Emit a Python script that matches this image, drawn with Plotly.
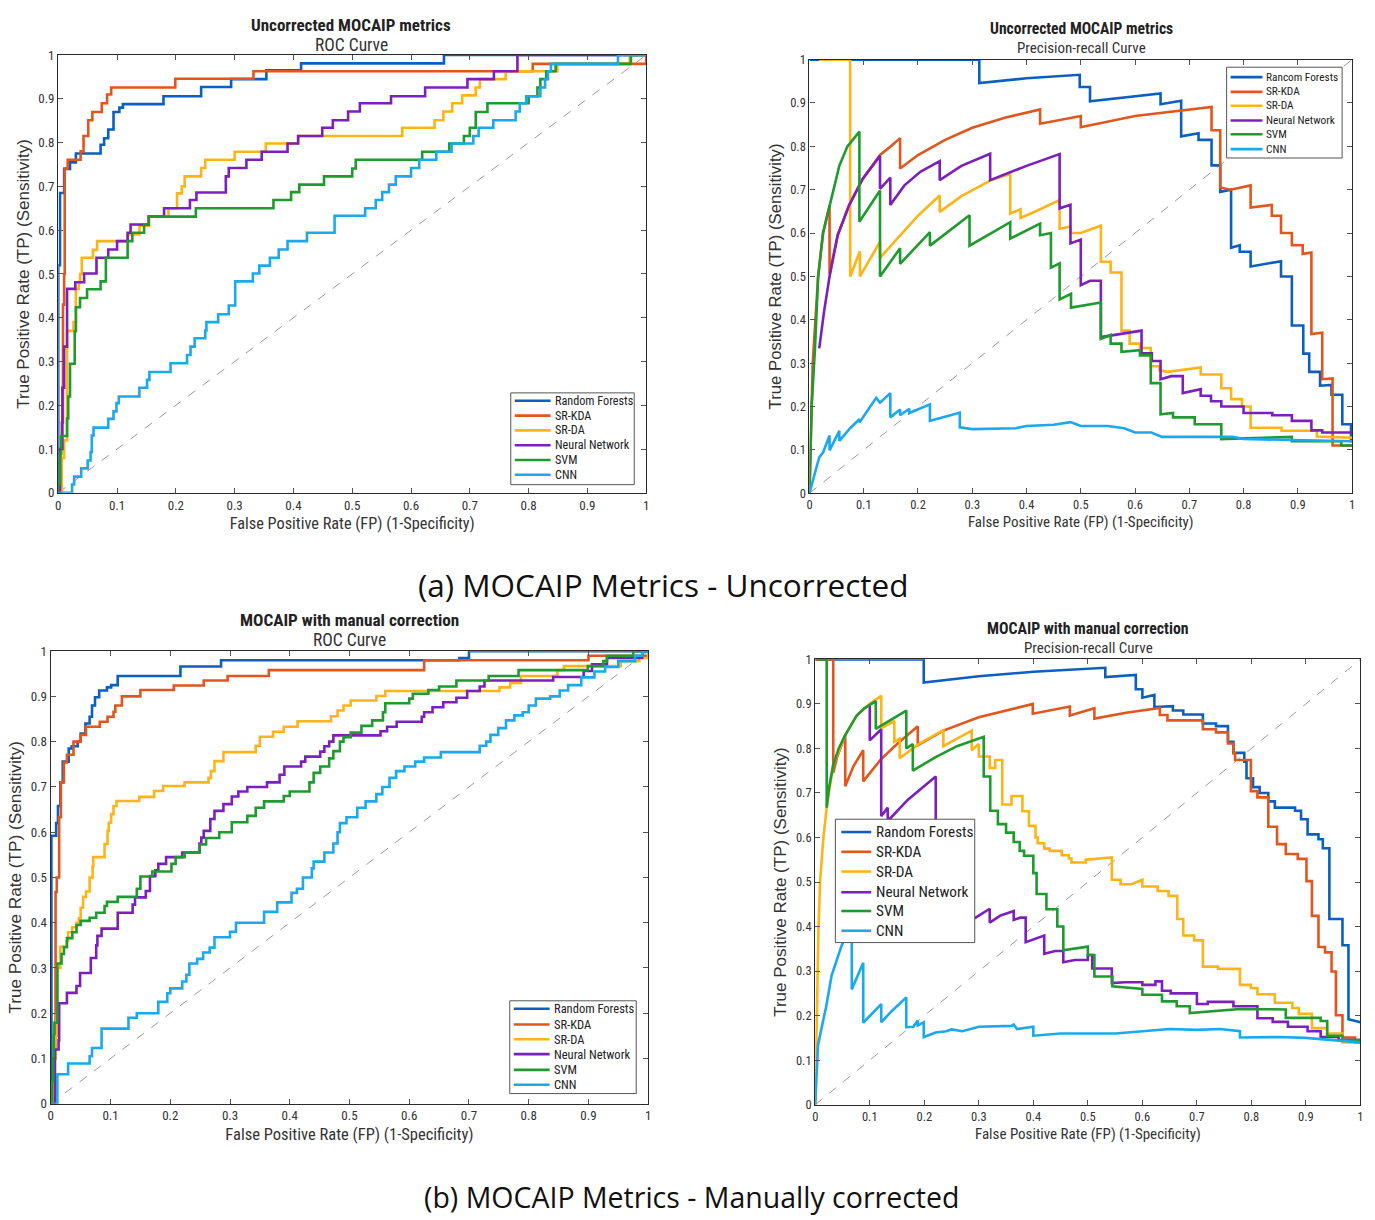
import plotly.graph_objects as go

W, H = 1375, 1220

# ---------------- series names / colours ----------------
series_names = ["Random Forests", "SR-KDA", "SR-DA", "Neural Network", "SVM", "CNN"]
series_names_pr_unc = ["Rancom Forests", "SR-KDA", "SR-DA", "Neural Network", "SVM", "CNN"]
series_colors = ["#0a5fc0", "#e0561c", "#fdb416", "#7b20bd", "#1f9a2e", "#1aa8ee"]
tick_vals = [0, 0.1, 0.2, 0.3, 0.4, 0.5, 0.6, 0.7, 0.8, 0.9, 1]
tick_text = ["0", "0.1", "0.2", "0.3", "0.4", "0.5", "0.6", "0.7", "0.8", "0.9", "1"]

# ================= (a) Uncorrected — ROC (step breakpoints) =================
roc_unc_rf_x = [0, 0, 0.003, 0.01, 0.02, 0.03, 0.072, 0.078, 0.085, 0.094, 0.104, 0.11, 0.179, 0.243, 0.294, 0.354, 0.413, 0.656, 1]
roc_unc_rf_y = [0, 0.52, 0.685, 0.74, 0.755, 0.775, 0.795, 0.81, 0.83, 0.87, 0.88, 0.888, 0.906, 0.927, 0.945, 0.965, 0.981, 1.0, 1]
roc_unc_kda_x = [0, 0.004, 0.006, 0.008, 0.01, 0.011, 0.016, 0.038, 0.043, 0.051, 0.058, 0.074, 0.083, 0.09, 0.199, 0.332, 0.807, 1]
roc_unc_kda_y = [0, 0.1, 0.16, 0.43, 0.5, 0.741, 0.761, 0.78, 0.815, 0.851, 0.87, 0.89, 0.91, 0.926, 0.946, 0.963, 0.98, 1]
roc_unc_da_x = [0, 0.006, 0.01, 0.015, 0.026, 0.03, 0.035, 0.037, 0.04, 0.059, 0.066, 0.118, 0.138, 0.154, 0.1875, 0.202, 0.21, 0.215, 0.243, 0.25, 0.3, 0.353, 0.408, 0.585, 0.64, 0.655, 0.67, 0.687, 0.71, 0.717, 0.761, 0.849, 0.972, 1]
roc_unc_da_y = [0, 0.08, 0.12, 0.37, 0.39, 0.466, 0.48, 0.5, 0.537, 0.555, 0.575, 0.59, 0.61, 0.631, 0.65, 0.684, 0.7, 0.723, 0.742, 0.761, 0.779, 0.798, 0.815, 0.834, 0.851, 0.871, 0.89, 0.908, 0.926, 0.945, 0.963, 0.98, 1.0, 1]
roc_unc_nn_x = [0, 0.003, 0.007, 0.01, 0.015, 0.029, 0.044, 0.065, 0.085, 0.10, 0.118, 0.123, 0.154, 0.18, 0.224, 0.235, 0.285, 0.29, 0.32, 0.346, 0.39, 0.408, 0.449, 0.467, 0.493, 0.513, 0.566, 0.624, 0.696, 0.741, 0.781, 1]
roc_unc_nn_y = [0, 0.1, 0.24, 0.334, 0.466, 0.481, 0.501, 0.537, 0.556, 0.575, 0.594, 0.613, 0.631, 0.65, 0.669, 0.686, 0.723, 0.742, 0.761, 0.779, 0.798, 0.815, 0.834, 0.851, 0.871, 0.89, 0.906, 0.926, 0.945, 0.963, 1.0, 1]
roc_unc_svm_x = [0, 0, 0.003, 0.005, 0.015, 0.017, 0.02, 0.028, 0.03, 0.037, 0.049, 0.072, 0.081, 0.118, 0.126, 0.146, 0.154, 0.234, 0.366, 0.396, 0.41, 0.452, 0.5, 0.506, 0.619, 0.665, 0.69, 0.70, 0.71, 0.73, 0.8, 0.815, 0.82, 0.83, 0.846, 0.974, 1]
roc_unc_svm_y = [0, 0.02, 0.09, 0.13, 0.17, 0.22, 0.295, 0.369, 0.424, 0.445, 0.465, 0.483, 0.537, 0.575, 0.594, 0.613, 0.631, 0.65, 0.669, 0.687, 0.704, 0.723, 0.741, 0.761, 0.779, 0.798, 0.815, 0.834, 0.87, 0.89, 0.906, 0.926, 0.945, 0.963, 0.98, 1.0, 1]
roc_unc_cnn_x = [0, 0.0235, 0.027, 0.039, 0.05, 0.055, 0.057, 0.06, 0.085, 0.094, 0.099, 0.103, 0.138, 0.151, 0.155, 0.191, 0.219, 0.225, 0.232, 0.25, 0.252, 0.272, 0.29, 0.301, 0.331, 0.342, 0.36, 0.375, 0.39, 0.423, 0.47, 0.522, 0.54, 0.551, 0.5625, 0.574, 0.6, 0.614, 0.643, 0.669, 0.706, 0.715, 0.74, 0.778, 0.785, 0.796, 0.82, 0.828, 0.833, 0.838, 0.952, 1]
roc_unc_cnn_y = [0, 0.019, 0.037, 0.056, 0.074, 0.093, 0.131, 0.149, 0.169, 0.186, 0.205, 0.22, 0.24, 0.258, 0.276, 0.296, 0.315, 0.334, 0.353, 0.371, 0.39, 0.408, 0.428, 0.483, 0.501, 0.519, 0.537, 0.556, 0.575, 0.594, 0.633, 0.65, 0.669, 0.687, 0.704, 0.723, 0.742, 0.761, 0.779, 0.798, 0.815, 0.834, 0.851, 0.871, 0.89, 0.906, 0.926, 0.945, 0.963, 0.98, 1.0, 1]

# ================= (a) Uncorrected — Precision-recall =================
pr_unc_rf_x = [0, 0.313, 0.313, 0.40, 0.498, 0.498, 0.517, 0.517, 0.647, 0.647, 0.685, 0.685, 0.717, 0.717, 0.741, 0.741, 0.757, 0.757, 0.777, 0.777, 0.793, 0.793, 0.813, 0.813, 0.869, 0.869, 0.889, 0.889, 0.91, 0.91, 0.921, 0.921, 0.941, 0.941, 0.962, 0.962, 0.982, 0.982, 0.998, 0.998, 1.0]
pr_unc_rf_y = [1, 1, 0.946, 0.957, 0.965, 0.937, 0.937, 0.904, 0.922, 0.897, 0.905, 0.823, 0.83, 0.815, 0.815, 0.756, 0.756, 0.695, 0.70, 0.566, 0.572, 0.557, 0.557, 0.523, 0.535, 0.50, 0.50, 0.387, 0.387, 0.322, 0.322, 0.28, 0.28, 0.248, 0.25, 0.227, 0.227, 0.159, 0.159, 0.12, 0.12]
pr_unc_kda_x = [0, 0.006, 0.016, 0.025, 0.037, 0.037, 0.052, 0.073, 0.098, 0.13, 0.15, 0.167, 0.167, 0.2, 0.25, 0.3, 0.36, 0.425, 0.425, 0.5, 0.5, 0.6, 0.741, 0.741, 0.757, 0.757, 0.776, 0.813, 0.813, 0.852, 0.852, 0.869, 0.869, 0.889, 0.889, 0.909, 0.909, 0.925, 0.925, 0.945, 0.945, 0.964, 0.964, 1.0]
pr_unc_kda_y = [0, 0.3, 0.5, 0.6, 0.664, 0.505, 0.595, 0.664, 0.725, 0.78, 0.80, 0.819, 0.749, 0.78, 0.815, 0.843, 0.866, 0.885, 0.852, 0.87, 0.844, 0.87, 0.891, 0.837, 0.837, 0.705, 0.70, 0.71, 0.659, 0.665, 0.64, 0.64, 0.60, 0.60, 0.572, 0.572, 0.552, 0.555, 0.367, 0.37, 0.263, 0.265, 0.11, 0.11]
pr_unc_da_x = [0.018, 0.075, 0.075, 0.093, 0.093, 0.13, 0.13, 0.16, 0.2, 0.24, 0.24, 0.28, 0.333, 0.37, 0.37, 0.389, 0.389, 0.42, 0.461, 0.461, 0.481, 0.481, 0.5, 0.537, 0.537, 0.555, 0.555, 0.575, 0.575, 0.59, 0.59, 0.609, 0.609, 0.629, 0.629, 0.645, 0.645, 0.66, 0.721, 0.721, 0.759, 0.759, 0.777, 0.777, 0.797, 0.797, 0.813, 0.813, 0.87, 0.87, 0.935, 0.935, 1.0]
pr_unc_da_y = [1, 1, 0.5, 0.558, 0.5, 0.58, 0.543, 0.585, 0.64, 0.687, 0.649, 0.685, 0.721, 0.737, 0.645, 0.655, 0.635, 0.652, 0.676, 0.61, 0.615, 0.60, 0.60, 0.617, 0.534, 0.534, 0.509, 0.509, 0.375, 0.375, 0.345, 0.345, 0.335, 0.335, 0.293, 0.293, 0.284, 0.28, 0.29, 0.274, 0.274, 0.242, 0.242, 0.217, 0.217, 0.20, 0.20, 0.151, 0.151, 0.144, 0.144, 0.131, 0.128]
pr_unc_nn_x = [0.018, 0.027, 0.037, 0.052, 0.073, 0.098, 0.13, 0.13, 0.149, 0.149, 0.175, 0.205, 0.24, 0.24, 0.28, 0.333, 0.333, 0.4, 0.461, 0.461, 0.481, 0.481, 0.5, 0.5, 0.517, 0.537, 0.537, 0.612, 0.612, 0.631, 0.631, 0.647, 0.647, 0.667, 0.688, 0.688, 0.721, 0.721, 0.74, 0.74, 0.759, 0.759, 0.8, 0.8, 0.853, 0.853, 0.889, 0.889, 0.925, 0.925, 0.945, 0.945, 1.0]
pr_unc_nn_y = [0.334, 0.42, 0.5, 0.595, 0.664, 0.725, 0.778, 0.702, 0.728, 0.665, 0.71, 0.742, 0.766, 0.722, 0.755, 0.783, 0.722, 0.755, 0.782, 0.657, 0.665, 0.576, 0.585, 0.48, 0.49, 0.49, 0.36, 0.375, 0.323, 0.323, 0.305, 0.305, 0.263, 0.27, 0.27, 0.231, 0.24, 0.225, 0.225, 0.212, 0.212, 0.20, 0.20, 0.185, 0.185, 0.18, 0.18, 0.167, 0.167, 0.145, 0.145, 0.14, 0.14]
pr_unc_svm_x = [0, 0.004, 0.01, 0.016, 0.025, 0.037, 0.055, 0.07, 0.092, 0.092, 0.13, 0.13, 0.167, 0.167, 0.222, 0.222, 0.295, 0.295, 0.37, 0.37, 0.425, 0.425, 0.445, 0.445, 0.461, 0.461, 0.482, 0.482, 0.537, 0.537, 0.555, 0.555, 0.575, 0.575, 0.609, 0.609, 0.629, 0.629, 0.647, 0.647, 0.67, 0.67, 0.71, 0.71, 0.759, 0.759, 0.889, 0.889, 0.98, 0.98, 1.0]
pr_unc_svm_y = [0, 0.2, 0.33, 0.5, 0.6, 0.664, 0.755, 0.80, 0.834, 0.626, 0.698, 0.50, 0.565, 0.529, 0.602, 0.571, 0.641, 0.571, 0.625, 0.587, 0.622, 0.595, 0.60, 0.52, 0.53, 0.447, 0.46, 0.428, 0.44, 0.356, 0.365, 0.345, 0.345, 0.326, 0.33, 0.318, 0.318, 0.254, 0.254, 0.182, 0.185, 0.175, 0.175, 0.159, 0.159, 0.125, 0.13, 0.12, 0.12, 0.11, 0.11]
pr_unc_cnn_x = [0, 0.018, 0.025, 0.037, 0.037, 0.055, 0.055, 0.075, 0.092, 0.092, 0.123, 0.13, 0.149, 0.149, 0.167, 0.167, 0.184, 0.184, 0.222, 0.222, 0.26, 0.277, 0.277, 0.30, 0.38, 0.40, 0.45, 0.481, 0.50, 0.55, 0.58, 0.60, 0.63, 0.65, 0.75, 0.78, 0.80, 1.0]
pr_unc_cnn_y = [0, 0.083, 0.094, 0.133, 0.099, 0.144, 0.121, 0.15, 0.171, 0.163, 0.22, 0.209, 0.231, 0.175, 0.193, 0.18, 0.195, 0.185, 0.205, 0.167, 0.18, 0.186, 0.152, 0.148, 0.15, 0.155, 0.158, 0.164, 0.155, 0.155, 0.15, 0.14, 0.14, 0.13, 0.13, 0.13, 0.125, 0.12]

# ================= (b) Manually corrected — ROC (step breakpoints) =================
roc_cor_rf_x = [0, 0.001, 0.009, 0.012, 0.016, 0.02, 0.03, 0.035, 0.045, 0.05, 0.058, 0.065, 0.069, 0.074, 0.081, 0.094, 0.101, 0.112, 0.217, 0.285, 0.684, 0.70, 1]
roc_cor_rf_y = [0, 0.592, 0.62, 0.658, 0.71, 0.756, 0.785, 0.79, 0.80, 0.818, 0.84, 0.855, 0.88, 0.898, 0.913, 0.92, 0.925, 0.945, 0.966, 0.98, 0.985, 1.0, 1]
roc_cor_kda_x = [0, 0.004, 0.008, 0.01, 0.014, 0.017, 0.022, 0.027, 0.038, 0.05, 0.059, 0.082, 0.095, 0.105, 0.108, 0.119, 0.15, 0.206, 0.256, 0.296, 0.365, 0.625, 0.9, 1]
roc_cor_kda_y = [0, 0.1, 0.468, 0.5, 0.633, 0.71, 0.754, 0.771, 0.80, 0.815, 0.833, 0.844, 0.855, 0.866, 0.88, 0.90, 0.914, 0.924, 0.935, 0.945, 0.958, 0.98, 0.99, 1]
roc_cor_da_x = [0, 0.005, 0.008, 0.01, 0.011, 0.016, 0.027, 0.029, 0.036, 0.043, 0.047, 0.05, 0.054, 0.059, 0.065, 0.07, 0.071, 0.09, 0.095, 0.097, 0.101, 0.105, 0.11, 0.148, 0.173, 0.188, 0.224, 0.264, 0.268, 0.274, 0.289, 0.343, 0.35, 0.372, 0.39, 0.413, 0.469, 0.48, 0.49, 0.502, 0.545, 0.56, 0.751, 0.769, 0.787, 0.848, 0.859, 0.954, 0.985, 1]
roc_cor_da_y = [0, 0.1, 0.15, 0.2, 0.3, 0.347, 0.36, 0.379, 0.39, 0.40, 0.41, 0.433, 0.457, 0.469, 0.50, 0.524, 0.545, 0.574, 0.603, 0.621, 0.64, 0.658, 0.669, 0.678, 0.691, 0.702, 0.71, 0.72, 0.735, 0.757, 0.777, 0.791, 0.811, 0.822, 0.833, 0.845, 0.856, 0.869, 0.88, 0.891, 0.901, 0.912, 0.92, 0.93, 0.945, 0.958, 0.967, 0.978, 0.985, 1]
roc_cor_nn_x = [0, 0.007, 0.013, 0.014, 0.027, 0.043, 0.049, 0.067, 0.076, 0.078, 0.085, 0.112, 0.137, 0.141, 0.159, 0.166, 0.175, 0.18, 0.193, 0.22, 0.249, 0.252, 0.256, 0.267, 0.274, 0.289, 0.303, 0.314, 0.329, 0.362, 0.383, 0.391, 0.419, 0.426, 0.451, 0.458, 0.466, 0.473, 0.552, 0.563, 0.579, 0.621, 0.625, 0.639, 0.657, 0.679, 0.697, 0.718, 0.726, 0.841, 0.892, 0.906, 0.931, 0.99, 1]
roc_cor_nn_y = [0, 0.12, 0.14, 0.222, 0.245, 0.26, 0.289, 0.322, 0.35, 0.371, 0.387, 0.422, 0.44, 0.456, 0.47, 0.503, 0.516, 0.53, 0.545, 0.555, 0.575, 0.588, 0.603, 0.629, 0.647, 0.662, 0.679, 0.69, 0.70, 0.71, 0.727, 0.745, 0.756, 0.767, 0.778, 0.79, 0.80, 0.814, 0.823, 0.833, 0.844, 0.855, 0.865, 0.876, 0.887, 0.897, 0.912, 0.922, 0.935, 0.943, 0.956, 0.971, 0.985, 1.0, 1]
roc_cor_svm_x = [0, 0.002, 0.004, 0.005, 0.006, 0.011, 0.018, 0.022, 0.027, 0.036, 0.043, 0.05, 0.065, 0.076, 0.09, 0.094, 0.112, 0.144, 0.15, 0.17, 0.202, 0.209, 0.224, 0.249, 0.26, 0.282, 0.303, 0.329, 0.343, 0.357, 0.39, 0.40, 0.433, 0.44, 0.451, 0.466, 0.473, 0.484, 0.49, 0.502, 0.52, 0.538, 0.556, 0.56, 0.60, 0.606, 0.632, 0.65, 0.679, 0.733, 0.783, 0.899, 0.925, 0.931, 0.975, 1]
roc_cor_svm_y = [0, 0.05, 0.10, 0.153, 0.179, 0.31, 0.331, 0.346, 0.366, 0.379, 0.395, 0.404, 0.411, 0.422, 0.437, 0.446, 0.457, 0.475, 0.502, 0.513, 0.53, 0.545, 0.555, 0.573, 0.587, 0.60, 0.622, 0.636, 0.654, 0.668, 0.68, 0.69, 0.71, 0.731, 0.745, 0.763, 0.779, 0.80, 0.81, 0.82, 0.835, 0.847, 0.865, 0.885, 0.895, 0.906, 0.914, 0.922, 0.935, 0.945, 0.958, 0.967, 0.978, 0.99, 1.0, 1]
roc_cor_cnn_x = [0, 0.011, 0.029, 0.065, 0.069, 0.085, 0.13, 0.144, 0.18, 0.195, 0.20, 0.22, 0.227, 0.232, 0.245, 0.255, 0.266, 0.274, 0.30, 0.31, 0.357, 0.379, 0.403, 0.412, 0.422, 0.437, 0.44, 0.458, 0.473, 0.48, 0.484, 0.495, 0.513, 0.527, 0.545, 0.555, 0.567, 0.578, 0.592, 0.61, 0.625, 0.653, 0.718, 0.729, 0.736, 0.749, 0.762, 0.776, 0.79, 0.80, 0.812, 0.836, 0.852, 0.866, 0.888, 0.91, 0.928, 0.95, 0.978, 0.99, 1]
roc_cor_cnn_y = [0, 0.065, 0.089, 0.105, 0.123, 0.166, 0.19, 0.20, 0.225, 0.244, 0.255, 0.27, 0.285, 0.31, 0.32, 0.334, 0.345, 0.368, 0.38, 0.40, 0.424, 0.445, 0.466, 0.475, 0.50, 0.52, 0.535, 0.555, 0.575, 0.60, 0.62, 0.633, 0.654, 0.668, 0.684, 0.70, 0.72, 0.735, 0.745, 0.756, 0.765, 0.777, 0.791, 0.80, 0.815, 0.83, 0.847, 0.858, 0.865, 0.88, 0.895, 0.90, 0.913, 0.925, 0.942, 0.955, 0.965, 0.978, 0.99, 1.0, 1]

# ================= (b) Manually corrected — Precision-recall =================
pr_cor_rf_x = [0, 0.199, 0.199, 0.30, 0.40, 0.532, 0.532, 0.588, 0.588, 0.60, 0.60, 0.622, 0.622, 0.656, 0.656, 0.675, 0.675, 0.711, 0.711, 0.735, 0.735, 0.757, 0.757, 0.767, 0.767, 0.787, 0.787, 0.791, 0.791, 0.803, 0.803, 0.815, 0.815, 0.831, 0.831, 0.843, 0.843, 0.88, 0.88, 0.891, 0.891, 0.903, 0.903, 0.923, 0.923, 0.931, 0.931, 0.943, 0.943, 0.967, 0.967, 0.978, 0.978, 1.0]
pr_cor_rf_y = [1, 1, 0.948, 0.962, 0.972, 0.981, 0.96, 0.965, 0.933, 0.933, 0.914, 0.92, 0.893, 0.895, 0.885, 0.885, 0.876, 0.876, 0.856, 0.856, 0.85, 0.85, 0.815, 0.815, 0.79, 0.79, 0.77, 0.77, 0.733, 0.733, 0.713, 0.713, 0.70, 0.70, 0.681, 0.681, 0.667, 0.667, 0.66, 0.66, 0.641, 0.641, 0.607, 0.607, 0.596, 0.596, 0.576, 0.576, 0.417, 0.417, 0.358, 0.358, 0.192, 0.185]
pr_cor_kda_x = [0, 0.033, 0.033, 0.04, 0.055, 0.055, 0.07, 0.088, 0.088, 0.12, 0.15, 0.188, 0.188, 0.235, 0.30, 0.399, 0.399, 0.467, 0.467, 0.512, 0.512, 0.57, 0.632, 0.632, 0.646, 0.646, 0.711, 0.711, 0.735, 0.735, 0.757, 0.757, 0.767, 0.767, 0.77, 0.77, 0.799, 0.799, 0.811, 0.811, 0.831, 0.831, 0.847, 0.847, 0.863, 0.863, 0.885, 0.885, 0.901, 0.901, 0.911, 0.911, 0.923, 0.923, 0.935, 0.935, 0.947, 0.947, 0.955, 0.955, 0.967, 0.967, 0.99, 0.99, 1.0]
pr_cor_kda_y = [1, 1, 0.745, 0.78, 0.83, 0.715, 0.76, 0.796, 0.726, 0.775, 0.81, 0.85, 0.807, 0.84, 0.87, 0.90, 0.878, 0.894, 0.874, 0.89, 0.867, 0.88, 0.891, 0.875, 0.875, 0.863, 0.863, 0.843, 0.843, 0.836, 0.836, 0.811, 0.811, 0.789, 0.789, 0.774, 0.774, 0.704, 0.704, 0.69, 0.69, 0.624, 0.624, 0.585, 0.585, 0.563, 0.563, 0.552, 0.552, 0.502, 0.502, 0.424, 0.424, 0.354, 0.354, 0.342, 0.342, 0.299, 0.299, 0.201, 0.201, 0.151, 0.151, 0.14, 0.14]
pr_cor_da_x = [0, 0.003, 0.006, 0.009, 0.015, 0.021, 0.033, 0.055, 0.076, 0.10, 0.121, 0.121, 0.145, 0.145, 0.155, 0.155, 0.19, 0.235, 0.235, 0.26, 0.287, 0.287, 0.30, 0.30, 0.32, 0.32, 0.33, 0.33, 0.343, 0.343, 0.36, 0.36, 0.38, 0.38, 0.392, 0.392, 0.404, 0.404, 0.408, 0.408, 0.42, 0.42, 0.43, 0.43, 0.452, 0.452, 0.465, 0.465, 0.47, 0.47, 0.496, 0.496, 0.544, 0.544, 0.56, 0.56, 0.58, 0.60, 0.60, 0.628, 0.628, 0.648, 0.648, 0.664, 0.664, 0.675, 0.675, 0.695, 0.695, 0.711, 0.711, 0.739, 0.739, 0.779, 0.779, 0.799, 0.799, 0.811, 0.811, 0.843, 0.843, 0.875, 0.875, 0.887, 0.887, 0.911, 0.911, 0.939, 0.939, 0.967, 0.967, 1.0]
pr_cor_da_y = [0, 0.2, 0.4, 0.504, 0.60, 0.667, 0.763, 0.83, 0.874, 0.90, 0.918, 0.845, 0.862, 0.815, 0.822, 0.778, 0.81, 0.841, 0.805, 0.822, 0.84, 0.796, 0.81, 0.782, 0.782, 0.756, 0.756, 0.774, 0.774, 0.674, 0.674, 0.693, 0.693, 0.659, 0.659, 0.626, 0.626, 0.60, 0.60, 0.587, 0.587, 0.575, 0.575, 0.57, 0.57, 0.56, 0.56, 0.553, 0.553, 0.544, 0.544, 0.55, 0.555, 0.505, 0.505, 0.495, 0.495, 0.505, 0.49, 0.49, 0.48, 0.48, 0.469, 0.469, 0.417, 0.417, 0.38, 0.38, 0.369, 0.369, 0.31, 0.31, 0.305, 0.305, 0.269, 0.269, 0.262, 0.262, 0.248, 0.248, 0.229, 0.229, 0.217, 0.217, 0.204, 0.204, 0.172, 0.172, 0.16, 0.16, 0.14, 0.14]
pr_cor_nn_x = [0.1, 0.1, 0.121, 0.121, 0.133, 0.133, 0.17, 0.221, 0.221, 0.26, 0.294, 0.32, 0.32, 0.34, 0.364, 0.364, 0.376, 0.386, 0.386, 0.42, 0.42, 0.44, 0.455, 0.455, 0.476, 0.50, 0.50, 0.508, 0.508, 0.544, 0.544, 0.568, 0.60, 0.60, 0.624, 0.624, 0.636, 0.636, 0.652, 0.652, 0.70, 0.70, 0.72, 0.72, 0.767, 0.767, 0.811, 0.811, 0.839, 0.839, 0.867, 0.867, 0.903, 0.903, 0.927, 0.927, 0.96, 0.96, 1.0]
pr_cor_nn_y = [0.896, 0.818, 0.843, 0.648, 0.667, 0.637, 0.685, 0.737, 0.40, 0.41, 0.42, 0.44, 0.409, 0.425, 0.435, 0.415, 0.42, 0.42, 0.365, 0.38, 0.339, 0.345, 0.345, 0.32, 0.325, 0.325, 0.336, 0.336, 0.306, 0.306, 0.273, 0.275, 0.275, 0.269, 0.269, 0.277, 0.277, 0.256, 0.256, 0.25, 0.25, 0.226, 0.226, 0.231, 0.231, 0.221, 0.221, 0.194, 0.194, 0.186, 0.186, 0.175, 0.175, 0.165, 0.165, 0.152, 0.152, 0.145, 0.145]
pr_cor_svm_x = [0.006, 0.021, 0.021, 0.025, 0.033, 0.043, 0.055, 0.076, 0.09, 0.111, 0.111, 0.14, 0.167, 0.167, 0.179, 0.179, 0.22, 0.26, 0.309, 0.309, 0.321, 0.321, 0.335, 0.335, 0.35, 0.35, 0.364, 0.364, 0.375, 0.375, 0.383, 0.383, 0.40, 0.40, 0.406, 0.406, 0.424, 0.424, 0.444, 0.444, 0.455, 0.455, 0.50, 0.50, 0.512, 0.512, 0.545, 0.545, 0.60, 0.60, 0.636, 0.636, 0.663, 0.663, 0.687, 0.687, 0.779, 0.863, 0.863, 0.927, 0.927, 0.939, 0.939, 0.967, 0.967, 1.0]
pr_cor_svm_y = [1, 1, 0.667, 0.71, 0.763, 0.80, 0.83, 0.874, 0.89, 0.906, 0.844, 0.866, 0.885, 0.80, 0.81, 0.75, 0.78, 0.805, 0.826, 0.737, 0.737, 0.66, 0.66, 0.63, 0.63, 0.611, 0.611, 0.59, 0.59, 0.57, 0.57, 0.559, 0.559, 0.52, 0.52, 0.473, 0.473, 0.439, 0.439, 0.40, 0.40, 0.347, 0.355, 0.336, 0.336, 0.288, 0.288, 0.266, 0.26, 0.247, 0.247, 0.232, 0.232, 0.221, 0.221, 0.206, 0.215, 0.214, 0.195, 0.195, 0.188, 0.188, 0.155, 0.155, 0.145, 0.145]
pr_cor_cnn_x = [0, 0.005, 0.01, 0.02, 0.03, 0.048, 0.058, 0.067, 0.067, 0.088, 0.088, 0.10, 0.121, 0.121, 0.14, 0.167, 0.167, 0.18, 0.188, 0.188, 0.199, 0.199, 0.221, 0.24, 0.25, 0.27, 0.30, 0.36, 0.364, 0.37, 0.40, 0.40, 0.45, 0.55, 0.60, 0.65, 0.70, 0.743, 0.779, 0.779, 0.85, 0.90, 0.95, 1.0]
pr_cor_cnn_y = [0, 0.133, 0.163, 0.22, 0.29, 0.356, 0.385, 0.39, 0.259, 0.319, 0.184, 0.20, 0.226, 0.185, 0.21, 0.241, 0.174, 0.175, 0.189, 0.178, 0.185, 0.152, 0.162, 0.165, 0.169, 0.165, 0.175, 0.177, 0.18, 0.17, 0.175, 0.155, 0.16, 0.16, 0.165, 0.17, 0.168, 0.17, 0.165, 0.151, 0.152, 0.15, 0.145, 0.14]

diag = [0, 1]

# ---------------- layout helpers ----------------
FONT_N = "Liberation Sans Narrow, Arial Narrow, Roboto Condensed, Liberation Sans, Arial, sans-serif"
FONT_R = "Liberation Sans, Arial, sans-serif"
FONT_CAP = "Open Sans, Lato, Noto Sans, sans-serif"

def px_x(p):
    return p / W

def px_y(p):
    return 1 - p / H

panels = {
    "TL": dict(xa="x", ya="y", dom_x=(55.5, 646), dom_y=(47.7, 491.3), xt=16.3, yt=17, tk=13),
    "TR": dict(xa="x2", ya="y2", dom_x=(810, 1355), dom_y=(52.3, 491.7), xt=15, yt=16.8, tk=12.5),
    "BL": dict(xa="x3", ya="y3", dom_x=(48, 648), dom_y=(651.7, 1110.3), xt=16.5, yt=17.2, tk=13),
    "BR": dict(xa="x4", ya="y4", dom_x=(815.8, 1363.4), dom_y=(660, 1111.3), xt=15, yt=17, tk=12.5),
}

panel_data = {
    "TL": ([roc_unc_rf_x, roc_unc_kda_x, roc_unc_da_x, roc_unc_nn_x, roc_unc_svm_x, roc_unc_cnn_x],
           [roc_unc_rf_y, roc_unc_kda_y, roc_unc_da_y, roc_unc_nn_y, roc_unc_svm_y, roc_unc_cnn_y], "hv"),
    "TR": ([pr_unc_rf_x, pr_unc_kda_x, pr_unc_da_x, pr_unc_nn_x, pr_unc_svm_x, pr_unc_cnn_x],
           [pr_unc_rf_y, pr_unc_kda_y, pr_unc_da_y, pr_unc_nn_y, pr_unc_svm_y, pr_unc_cnn_y], "linear"),
    "BL": ([roc_cor_rf_x, roc_cor_kda_x, roc_cor_da_x, roc_cor_nn_x, roc_cor_svm_x, roc_cor_cnn_x],
           [roc_cor_rf_y, roc_cor_kda_y, roc_cor_da_y, roc_cor_nn_y, roc_cor_svm_y, roc_cor_cnn_y], "hv"),
    "BR": ([pr_cor_rf_x, pr_cor_kda_x, pr_cor_da_x, pr_cor_nn_x, pr_cor_svm_x, pr_cor_cnn_x],
           [pr_cor_rf_y, pr_cor_kda_y, pr_cor_da_y, pr_cor_nn_y, pr_cor_svm_y, pr_cor_cnn_y], "linear"),
}

fig = go.Figure()

for key, p in panels.items():
    # diagonal reference
    fig.add_trace(go.Scatter(x=diag, y=diag, mode="lines", xaxis=p["xa"], yaxis=p["ya"],
                             line=dict(color="#9a9a9a", width=1, dash="dash"),
                             showlegend=False, hoverinfo="skip"))
    xs, ys, shape = panel_data[key]
    for i in range(6):
        fig.add_trace(go.Scatter(x=xs[i], y=ys[i], mode="lines", name=series_names[i],
                                 xaxis=p["xa"], yaxis=p["ya"],
                                 line=dict(color=series_colors[i], width=2.6, shape=shape),
                                 showlegend=False))

axis_common = dict(range=[0, 1], tickvals=tick_vals, ticktext=tick_text, ticks="inside",
                   ticklen=5, tickwidth=1, tickcolor="#555555", showline=True,
                   linecolor="#2a2a2a", linewidth=1.3, mirror="ticks", showgrid=False,
                   zeroline=False, fixedrange=True)

layout_axes = {}
for idx, (key, p) in enumerate(panels.items()):
    n = "" if idx == 0 else str(idx + 1)
    layout_axes["xaxis" + n] = dict(axis_common, domain=[px_x(p["dom_x"][0]), px_x(p["dom_x"][1])],
                                    anchor="y" + n,
                                    tickfont=dict(family=FONT_N, size=p["tk"], color="#333333"),
                                    title=dict(text="False Positive Rate (FP) (1-Specificity)",
                                               font=dict(family=FONT_N, size=p["xt"], color="#333333"),
                                               standoff=5))
    layout_axes["yaxis" + n] = dict(axis_common, domain=[px_y(p["dom_y"][1]), px_y(p["dom_y"][0])],
                                    anchor="x" + n,
                                    tickfont=dict(family=FONT_N, size=p["tk"], color="#333333"),
                                    title=dict(text="True Positive Rate (TP) (Sensitivity)",
                                               font=dict(family=FONT_R, size=p["yt"], color="#333333"),
                                               standoff=4))

fig.update_layout(width=W, height=H, margin=dict(l=0, r=0, t=0, b=0),
                  paper_bgcolor="white", plot_bgcolor="white", showlegend=False, **layout_axes)

annotations = []
shapes = []

# panel titles: (title, subtitle, centre x, title y, subtitle y, title size, subtitle size)
titles = [
    ("Uncorrected MOCAIP metrics", "ROC Curve", 350, 17, 37, 17, 17.5),
    ("Uncorrected MOCAIP metrics", "Precision-recall Curve", 1083, 21, 41, 15.6, 15),
    ("MOCAIP with manual correction", "ROC Curve", 348, 620, 640, 17.2, 17.5),
    ("MOCAIP with manual correction", "Precision-recall Curve", 1090, 629, 649, 15.8, 15),
]
for t1, t2, cx, y1, y2, s1, s2 in titles:
    annotations.append(dict(text="<b>" + t1 + "</b>", x=px_x(cx), y=px_y(y1), xref="paper", yref="paper",
                            showarrow=False, xanchor="center", yanchor="middle",
                            font=dict(family=FONT_N, size=s1, color="#222222")))
    annotations.append(dict(text=t2, x=px_x(cx), y=px_y(y2), xref="paper", yref="paper",
                            showarrow=False, xanchor="center", yanchor="middle",
                            font=dict(family=FONT_N, size=s2, color="#333333")))

# captions
annotations.append(dict(text="(a) MOCAIP Metrics - Uncorrected", x=px_x(663), y=px_y(584),
                        xref="paper", yref="paper", showarrow=False, xanchor="center", yanchor="middle",
                        font=dict(family=FONT_CAP, size=31.5, color="#111111")))
annotations.append(dict(text="(b) MOCAIP Metrics - Manually corrected", x=px_x(692), y=px_y(1205),
                        xref="paper", yref="paper", showarrow=False, xanchor="center", yanchor="middle",
                        font=dict(family=FONT_CAP, size=28.5, color="#111111")))

# legends (box, line sample, label)
legends = [
    dict(box=(510, 390, 634, 483), rows=[398, 413, 428, 443, 458, 473], line=(514, 550), tx=552, fs=12.2, names=series_names),
    dict(box=(1229, 60, 1345, 152), rows=[70, 85, 99, 114, 128, 143], line=(1233, 1265), tx=1267, fs=11.3, names=series_names_pr_unc),
    dict(box=(509, 1006, 636, 1100), rows=[1014, 1030, 1045, 1060, 1076, 1091], line=(513, 549), tx=551, fs=12.5, names=series_names),
    dict(box=(836, 822, 976, 947), rows=[835, 855, 875, 896, 915, 935], line=(842, 872), tx=875, fs=15.2, names=series_names),
]
for lg in legends:
    x0, y0, x1, y1 = lg["box"]
    shapes.append(dict(type="rect", xref="paper", yref="paper", x0=px_x(x0), x1=px_x(x1),
                       y0=px_y(y1), y1=px_y(y0), fillcolor="white",
                       line=dict(color="#555555", width=1), layer="above"))
    for i, ry in enumerate(lg["rows"]):
        shapes.append(dict(type="line", xref="paper", yref="paper", x0=px_x(lg["line"][0]), x1=px_x(lg["line"][1]),
                           y0=px_y(ry), y1=px_y(ry), line=dict(color=series_colors[i], width=2.6), layer="above"))
        annotations.append(dict(text=lg["names"][i], x=px_x(lg["tx"]), y=px_y(ry), xref="paper", yref="paper",
                                showarrow=False, xanchor="left", yanchor="middle",
                                font=dict(family=FONT_N, size=lg["fs"], color="#222222")))

fig.update_layout(annotations=annotations, shapes=shapes)
fig.write_html("out.html")
